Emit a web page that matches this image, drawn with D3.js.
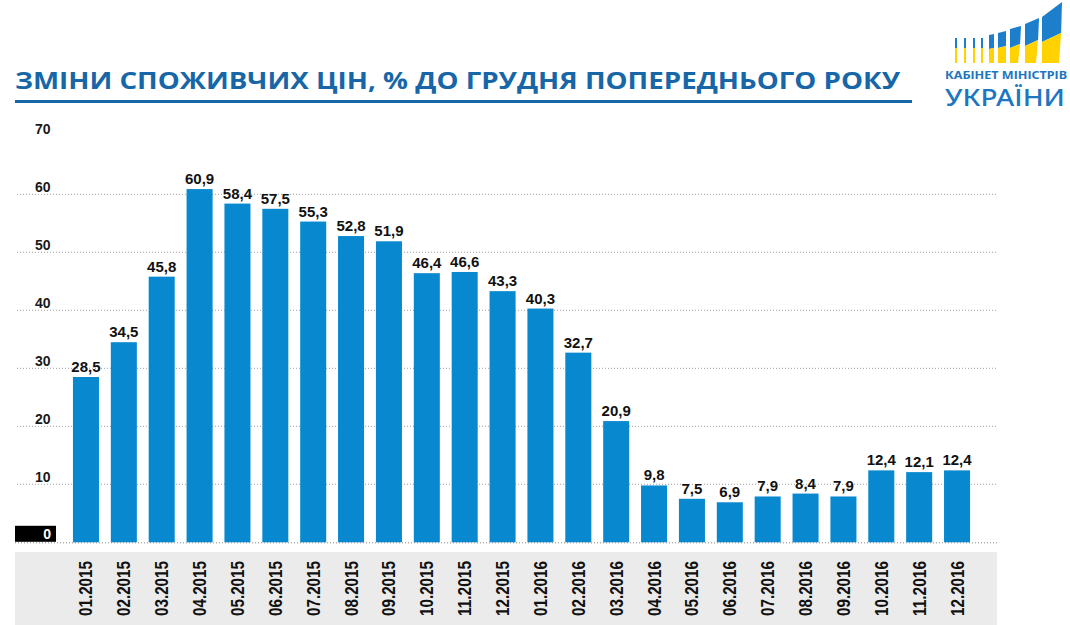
<!DOCTYPE html>
<html>
<head>
<meta charset="utf-8">
<script src="https://cdn.jsdelivr.net/npm/d3@7"></script>
<style>
  body { margin: 0; background: #fff; }
  svg { display: block; }
</style>
</head>
<body>
<div id="chart"></div>
<script>
var months = ["01.2015", "02.2015", "03.2015", "04.2015", "05.2015", "06.2015",
    "07.2015", "08.2015", "09.2015", "10.2015", "11.2015", "12.2015",
    "01.2016", "02.2016", "03.2016", "04.2016", "05.2016", "06.2016",
    "07.2016", "08.2016", "09.2016", "10.2016", "11.2016", "12.2016"];
var values = [28.5, 34.5, 45.8, 60.9, 58.4, 57.5, 55.3, 52.8, 51.9, 46.4, 46.6, 43.3,
    40.3, 32.7, 20.9, 9.8, 7.5, 6.9, 7.9, 8.4, 7.9, 12.4, 12.1, 12.4];
var yTicks = [10, 20, 30, 40, 50, 60, 70];
var title = "ЗМІНИ СПОЖИВЧИХ ЦІН, % ДО ГРУДНЯ ПОПЕРЕДНЬОГО РОКУ";

function init() {
    var w = 1070;
    var h = 625;
    var blue = "#0788cf";
    var fmt = function(v) { return d3.format(".1f")(v).replace(".", ","); };

    var svg = d3.select("#chart")
        .append("svg")
        .attr("width", w)
        .attr("height", h);

    // scales
    var x = d3.scaleBand()
        .domain(months)
        .range([67, 976])
        .paddingInner(0.313)
        .paddingOuter(0.157);
    var y = d3.scaleLinear().domain([0, 70]).range([542.3, 136.3]);

    // grey band under the bars
    svg.append("rect")
        .attr("x", 15).attr("y", 552)
        .attr("width", 982).attr("height", 73)
        .attr("fill", "#ebebeb");

    // dotted gridlines
    svg.selectAll(".grid")
        .data(yTicks.filter(d => d < 70))
        .enter().append("line")
        .attr("x1", 17).attr("x2", 997)
        .attr("y1", d => y(d)).attr("y2", d => y(d))
        .attr("stroke", "#a0a0a0")
        .attr("stroke-width", 1)
        .attr("stroke-dasharray", "1,2");

    // tick labels
    svg.selectAll(".ytick")
        .data(yTicks)
        .enter().append("text")
        .attr("x", 35)
        .attr("y", d => y(d) - 2)
        .attr("font-family", "Liberation Sans, Arial, sans-serif")
        .attr("font-weight", "bold")
        .attr("font-size", 14)
        .attr("fill", "#1a1a1a")
        .text(d => d);

    // zero label in black box
    svg.append("rect")
        .attr("x", 15).attr("y", y(0) - 16.5)
        .attr("width", 41).attr("height", 16)
        .attr("fill", "#000");
    svg.append("text")
        .attr("x", 51).attr("y", y(0) - 3.5)
        .attr("text-anchor", "end")
        .attr("font-family", "Liberation Sans, Arial, sans-serif")
        .attr("font-weight", "bold")
        .attr("font-size", 14)
        .attr("fill", "#fff")
        .text("0");

    // bars
    svg.selectAll(".bar")
        .data(values)
        .enter().append("rect")
        .attr("x", (d, i) => x(months[i]))
        .attr("y", d => y(d))
        .attr("width", x.bandwidth())
        .attr("height", d => y(0) - y(d))
        .attr("fill", blue);

    // zero line
    svg.append("line")
        .attr("x1", 15).attr("x2", 997)
        .attr("y1", y(0) + 0.5).attr("y2", y(0) + 0.5)
        .attr("stroke", "#888")
        .attr("stroke-dasharray", "1,2");

    // value labels
    svg.selectAll(".val")
        .data(values)
        .enter().append("text")
        .attr("x", (d, i) => x(months[i]) + x.bandwidth() / 2)
        .attr("y", d => y(d) - 5)
        .attr("text-anchor", "middle")
        .attr("font-family", "Liberation Sans, Arial, sans-serif")
        .attr("font-weight", "bold")
        .attr("font-size", 15)
        .attr("fill", "#111")
        .text(d => fmt(d));

    // month labels
    svg.selectAll(".mon")
        .data(months)
        .enter().append("text")
        .attr("transform", d => "translate(" + (x(d) + x.bandwidth() / 2 + 6.5) + ",616) rotate(-90)")
        .attr("text-anchor", "start")
        .attr("font-family", "Liberation Sans, Arial, sans-serif")
        .attr("font-weight", "bold")
        .attr("font-size", 18)
        .attr("textLength", 55)
        .attr("lengthAdjust", "spacingAndGlyphs")
        .attr("fill", "#111")
        .text(d => d);

    // title
    svg.append("text")
        .attr("x", 15).attr("y", 89)
        .attr("font-family", "Open Sans, Noto Sans, sans-serif")
        .attr("font-weight", "bold")
        .attr("font-size", 24)
        .attr("textLength", 885)
        .attr("lengthAdjust", "spacingAndGlyphs")
        .attr("fill", "#1767a8")
        .text(title);
    svg.append("rect")
        .attr("x", 15).attr("y", 100)
        .attr("width", 897).attr("height", 3)
        .attr("fill", "#1767a8");

    // logo
    var logo = svg.append("g");
    var logoBars = [
        [955, 957, 38, 38, 48, 48], [964, 966, 38, 38, 48, 48],
        [973, 975, 38, 38, 48, 48], [981, 983, 38, 38, 48, 48],
        [989, 994, 35, 34, 49, 48], [998, 1006, 33, 31, 48, 46],
        [1010, 1021, 29, 26, 48, 44], [1025, 1039, 24, 18, 46, 40],
        [1042, 1062, 17, 2, 42, 33]
    ];
    logoBars.forEach(function(b) {
        var bottom = 63;
        var slant = (b[1] - b[0]) > 10 ? 3 : 0;
        logo.append("polygon")
            .attr("points", [[b[0], b[2]], [b[1], b[3]], [b[1] - slant * 0.3, b[5]], [b[0], b[4]]].join(" "))
            .attr("fill", "#1d7fcb");
        logo.append("polygon")
            .attr("points", [[b[0], b[4]], [b[1] - slant * 0.3, b[5]], [b[1] - slant, bottom], [b[0], bottom]].join(" "))
            .attr("fill", "#ffd200");
    });
    logo.append("text")
        .attr("x", 945).attr("y", 79)
        .attr("font-family", "Noto Sans, sans-serif")
        .attr("font-weight", "bold")
        .attr("font-size", 11)
        .attr("textLength", 122)
        .attr("lengthAdjust", "spacingAndGlyphs")
        .attr("fill", "#1d76bf")
        .text("КАБІНЕТ МІНІСТРІВ");
    logo.append("text")
        .attr("x", 945).attr("y", 106)
        .attr("font-family", "Noto Sans, sans-serif")
        .attr("font-weight", "500")
        .attr("font-size", 24)
        .attr("textLength", 120)
        .attr("lengthAdjust", "spacingAndGlyphs")
        .attr("fill", "#1d76bf")
        .text("УКРАЇНИ");
}

window.onload = init;
</script>
</body>
</html>
